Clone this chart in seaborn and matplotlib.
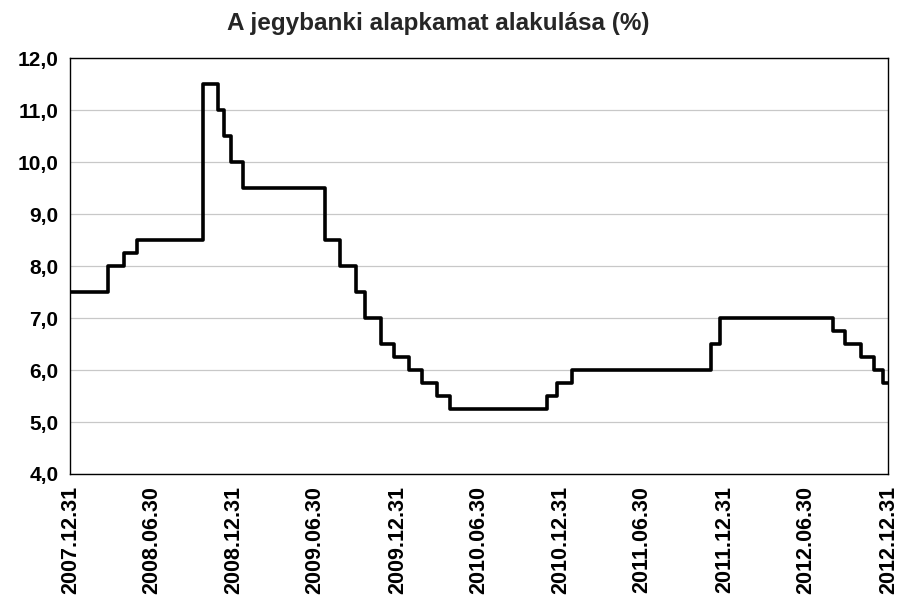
"""Hungarian central bank base rate, step chart."""

import matplotlib
import matplotlib.dates as mdates
import matplotlib.pyplot as plt
import pandas as pd
import seaborn as sns
from matplotlib.ticker import FuncFormatter, MultipleLocator

matplotlib.use("Agg")

# rate change dates and the new rate (%)
change_dates = [
    "2007-12-31", "2008-03-25", "2008-04-29", "2008-05-27", "2008-10-22",
    "2008-11-25", "2008-12-09", "2008-12-23", "2009-01-20", "2009-07-21",
    "2009-08-25", "2009-09-29", "2009-10-20", "2009-11-24", "2009-12-22",
    "2010-01-26", "2010-02-23", "2010-03-30", "2010-04-27", "2010-11-30",
    "2010-12-21", "2011-01-25", "2011-11-30", "2011-12-21", "2012-08-29",
    "2012-09-26", "2012-10-31", "2012-11-28", "2012-12-19", "2012-12-31",
]
rates = [
    7.50, 8.00, 8.25, 8.50, 11.50,
    11.00, 10.50, 10.00, 9.50, 8.50,
    8.00, 7.50, 7.00, 6.50, 6.25,
    6.00, 5.75, 5.50, 5.25, 5.50,
    5.75, 6.00, 6.50, 7.00, 6.75,
    6.50, 6.25, 6.00, 5.75, 5.75,
]
tick_dates = [
    "2007-12-31", "2008-06-30", "2008-12-31", "2009-06-30", "2009-12-31",
    "2010-06-30", "2010-12-31", "2011-06-30", "2011-12-31", "2012-06-30",
    "2012-12-31",
]
title = "A jegybanki alapkamat alakulása (%)"

df = pd.DataFrame({"date": pd.to_datetime(change_dates), "rate": rates})

sns.set_style("white")
plt.rcParams["font.family"] = ["Liberation Sans", "DejaVu Sans"]
plt.rcParams["font.weight"] = "bold"

fig, ax = plt.subplots(figsize=(9.01, 6.0), dpi=100)
fig.subplots_adjust(left=0.078, right=0.986, top=0.903, bottom=0.21)

sns.lineplot(data=df, x="date", y="rate", ax=ax, color="black",
             linewidth=2.6, drawstyle="steps-post")

ticks = pd.to_datetime(tick_dates)
ax.set_xlim(ticks[0], ticks[-1])
ax.set_xticks(ticks)
ax.xaxis.set_major_formatter(mdates.DateFormatter("%Y.%m.%d"))
ax.set_ylim(4, 12)
ax.yaxis.set_major_locator(MultipleLocator(1))
ax.yaxis.set_major_formatter(FuncFormatter(lambda v, _: f"{v:.1f}".replace(".", ",")))

ax.grid(axis="y", color="#c8c8c8", linewidth=0.9)
for spine in ax.spines.values():
    spine.set_color("black")
    spine.set_linewidth(1.0)

ax.tick_params(axis="x", direction="out", length=5, width=1, rotation=90,
               labelsize=15.5, colors="black")
ax.tick_params(axis="y", direction="out", length=5, width=1, labelsize=15,
               colors="black")
for lbl in ax.get_xticklabels() + ax.get_yticklabels():
    lbl.set_fontweight("bold")

ax.set_xlabel("")
ax.set_ylabel("")
ax.set_title(title, fontsize=17.5, fontweight="bold", x=0.45, pad=20)

fig.savefig("out.png", dpi=100)
plt.close(fig)
